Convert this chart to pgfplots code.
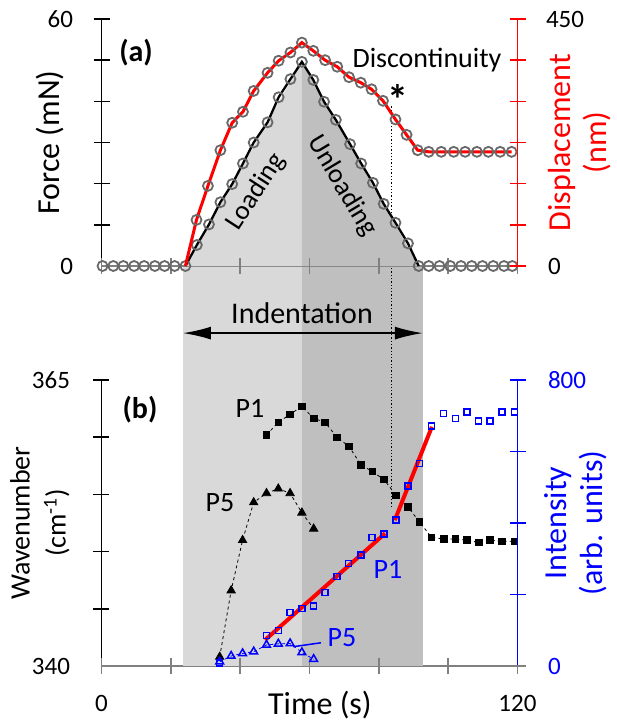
\documentclass[border=0pt]{standalone}
\usepackage{pgfplots}
\pgfplotsset{compat=1.18}
\usetikzlibrary{arrows.meta}
\usepackage{fontspec}
\setmainfont{Carlito}
\definecolor{lgray}{RGB}{217,217,217}
\definecolor{dgray}{RGB}{191,191,191}
\definecolor{agray}{RGB}{128,128,128}
\definecolor{cgray}{RGB}{105,105,105}
\definecolor{myblue}{RGB}{0,0,255}
\definecolor{myred}{RGB}{255,0,0}
\newcommand{\tfont}{\fontsize{25}{28}\selectfont}
\newcommand{\lfont}{\fontsize{32}{36}\selectfont}

\pgfplotsset{
  base/.style={scale only axis, width=416pt, xmin=0, xmax=120, anchor=south west,
    clip=false, xtick=\empty, ytick=\empty,
    axis line style={line width=1.8pt},
  },
}

\begin{document}
\begin{tikzpicture}[x=1pt,y=1pt]
\path (0,0) rectangle (617,-724);

% ---------------- bottom panel, wavenumber ----------------
\begin{axis}[base, at={(101.5pt,-666pt)}, height=286pt,
  ymin=340, ymax=365,
  axis x line*=bottom, axis y line*=left,
  x axis line style={draw=agray},
  xlabel={Time (s)}, xlabel style={font=\lfont, at={(axis description cs:0.525,-0.135)}, anchor=center},
  ylabel={Wavenumber\\(cm\textsuperscript{-1})},
  ylabel style={font=\fontsize{28}{36}\selectfont, align=center, at={(axis description cs:-0.148,0.5)}, anchor=center},
]
% shading (extends up to the top panel baseline)
\addplot[draw=none, fill=lgray] coordinates {(23.5,340) (57.8,340) (57.8,374.97) (23.5,374.97)};
\addplot[draw=none, fill=dgray] coordinates {(57.8,340) (92.7,340) (92.7,374.97) (57.8,374.97)};
% P1 wavenumber
\addplot[black, dashed, line width=0.8pt, mark=square*, mark size=3.3pt, mark options={solid}] coordinates {
(47.6,360.2) (51.0,361.3) (54.4,362.0) (57.8,362.7) (61.2,361.65) (64.5,361.3) (67.9,360.0)
(71.4,359.2) (74.8,357.6) (78.1,357.0) (81.5,356.3) (85.0,354.9) (88.4,353.9) (91.7,352.6)
(95.2,351.25) (98.7,351.1) (102.1,351.1) (105.4,351.0) (108.8,350.8) (112.1,351.0) (115.5,350.9) (119.1,350.9)};
% P5 wavenumber
\addplot[black, dashed, line width=0.8pt, mark=triangle*, mark size=4.8pt, mark options={solid}] coordinates {
(34.1,340.8) (37.4,346.6) (40.7,351.0) (43.9,354.3) (47.6,355.1) (51.0,355.5) (54.4,355.1) (57.8,353.4) (61.2,352.0)};
% discontinuity marker line
\draw[dotted, line width=1.3pt] (axis cs:83.7,353.9) -- (axis cs:83.7,389.0);
% indentation arrow
\draw[{Latex[length=28pt,width=13pt]}-{Latex[length=28pt,width=13pt]}, line width=1.8pt] (axis cs:23.5,369.1) -- (axis cs:92.7,369.1);
% ticks
\pgfplotsinvokeforeach{345,350,355,360,365}{\draw[black, line width=1.6pt] ([xshift=-8pt]axis cs:0,#1) -- ([xshift=8pt]axis cs:0,#1);}
\pgfplotsinvokeforeach{0,20,40,60,80,100,120}{\draw[agray, line width=1.6pt] ([yshift=-8pt]axis cs:#1,340) -- ([yshift=8pt]axis cs:#1,340);}
% tick labels
\node[anchor=east, font=\tfont] at ([xshift=-28pt]axis cs:0,365) {365};
\node[anchor=east, font=\tfont] at ([xshift=-28pt]axis cs:0,340) {340};
\node[font=\tfont] at ([yshift=-37pt]axis cs:0,340) {0};
\node[font=\tfont] at ([yshift=-37pt]axis cs:120,340) {120};
\end{axis}

% ---------------- bottom panel, intensity ----------------
\begin{axis}[base, at={(101.5pt,-666pt)}, height=286pt,
  ymin=0, ymax=800,
  axis x line=none, axis y line*=right,
  y axis line style={draw=myblue},
  ylabel={Intensity\\(arb. units)},
  ylabel style={font=\lfont, text=myblue, align=center, at={(axis description cs:1.14,0.5)}, anchor=center},
]
\addplot[only marks, myblue, mark=square, mark size=3pt, mark options={line width=1.5pt}] coordinates {
(34.1,9) (47.6,85) (51.0,99) (54.4,150) (57.8,161) (61.2,168) (64.5,206) (67.9,250) (71.3,287)
(74.8,310) (78.1,359) (81.5,369) (85.0,408) (88.4,503) (91.7,567) (95.2,672) (98.7,707)
(102.1,693) (105.4,711) (108.8,686) (112.1,686) (115.5,711) (119.1,710)};
\addplot[myblue, dashed, line width=0.8pt, mark=triangle, mark size=4.5pt, mark options={solid, line width=1.5pt}] coordinates {
(34.1,12) (37.4,28) (40.7,35) (43.9,40) (47.6,59) (51.0,62) (54.4,63) (57.8,38) (61.2,19)};
\addplot[myred, line width=4pt] coordinates {(47.2,73) (81.8,371)};
\addplot[myred, line width=4pt] coordinates {(84.6,408) (95.3,669)};
\addplot[myblue, line width=1.5pt] coordinates {(55.3,54) (63.3,65)};
\pgfplotsinvokeforeach{200,400,600,800}{\draw[myblue, line width=1.6pt] ([xshift=-8pt]axis cs:120,#1) -- ([xshift=8pt]axis cs:120,#1);}
\draw[agray, line width=1.6pt] ([xshift=-8pt]axis cs:120,0) -- ([xshift=8pt]axis cs:120,0);
\node[anchor=west, font=\tfont, text=myblue] at ([xshift=27pt]axis cs:120,800) {800};
\node[anchor=west, font=\tfont, text=myblue] at ([xshift=27pt]axis cs:120,0) {0};
\end{axis}

% ---------------- top panel, force ----------------
\begin{axis}[base, at={(101.5pt,-266pt)}, height=247pt,
  ymin=0, ymax=60,
  axis x line*=bottom, axis y line*=left,
  x axis line style={draw=agray},
  ylabel={Force (mN)},
  ylabel style={font=\lfont, at={(axis description cs:-0.124,0.5)}, anchor=center},
]
\addplot[draw=none, fill=lgray] coordinates {(24.2,0) (57.8,49.6) (57.8,0)};
\addplot[draw=none, fill=dgray] coordinates {(57.8,0) (57.8,49.6) (91.5,0)};
\pgfplotsinvokeforeach{10,20,30,40,50,60}{\draw[black, line width=1.6pt] ([xshift=-8pt]axis cs:0,#1) -- ([xshift=8pt]axis cs:0,#1);}
\pgfplotsinvokeforeach{0,20,40,60,80,100,120}{\draw[agray, line width=1.6pt] ([yshift=-8pt]axis cs:#1,0) -- ([yshift=8pt]axis cs:#1,0);}
\addplot[black, line width=2.3pt] coordinates {
(24.2,0) (27.5,5.1) (31.0,10.1) (34.3,15.5) (37.7,19.9) (40.8,24.9) (43.9,30.0) (47.9,34.9)
(51.1,41.0) (54.5,45.4) (57.8,49.6) (61.1,45.2) (64.2,39.9) (67.6,35.5) (71.7,29.6) (74.9,24.9)
(78.3,20.2) (81.4,15.1) (84.8,10.5) (88.4,5.5) (91.5,0)};
\addplot[only marks, cgray, mark=o, mark size=5pt, mark options={line width=1.8pt}] coordinates {
(0.3,0) (3.4,0) (6.3,0) (9.4,0) (12.3,0) (15.4,0) (18.2,0) (21.1,0)
(24.2,0) (27.5,5.1) (31.0,10.1) (34.3,15.5) (37.7,19.9) (40.8,24.9) (43.9,30.0) (47.9,34.9)
(51.1,41.0) (54.5,45.4) (57.8,49.6) (61.1,45.2) (64.2,39.9) (67.6,35.5) (71.7,29.6) (74.9,24.9)
(78.3,20.2) (81.4,15.1) (84.8,10.5) (88.4,5.5) (91.5,0)
(94.4,0) (97.5,0) (100.6,0) (103.7,0) (106.8,0) (109.9,0) (113.0,0) (116.1,0) (118.5,0)};
\node[anchor=east, font=\tfont] at ([xshift=-25pt]axis cs:0,60) {60};
\node[anchor=east, font=\tfont] at ([xshift=-25pt]axis cs:0,0) {0};
\end{axis}

% ---------------- top panel, displacement ----------------
\begin{axis}[base, at={(101.5pt,-266pt)}, height=247pt,
  ymin=0, ymax=450,
  axis x line=none, axis y line*=right,
  y axis line style={draw=myred},
  ylabel={Displacement\\(nm)},
  ylabel style={font=\lfont, text=myred, align=center, at={(axis description cs:1.150,0.5)}, anchor=center},
]
\pgfplotsinvokeforeach{0,75,150,225,300,375,450}{\draw[myred, line width=1.6pt] ([xshift=-8pt]axis cs:120,#1) -- ([xshift=8pt]axis cs:120,#1);}
\addplot[myred, line width=3pt] coordinates {
(24.2,0) (27.4,84) (30.7,146) (34.3,211) (37.7,261) (40.8,281) (43.9,319) (47.9,352) (51.1,374)
(54.5,389) (57.8,407) (61.1,392) (64.5,375) (68.0,363) (71.4,344) (74.8,334) (77.9,322) (81.2,301)
(84.8,267) (88.0,239) (91.2,211) (94.4,208) (98.0,208) (101.6,208) (104.9,208) (108.3,208)
(111.6,208) (115.0,208) (118.3,208)};
\addplot[only marks, cgray, mark=o, mark size=5pt, mark options={line width=1.8pt}] coordinates {
(27.4,84) (30.7,146) (34.3,211) (37.7,261) (40.8,281) (43.9,319) (47.9,352) (51.1,374)
(54.5,389) (57.8,407) (61.1,392) (64.5,375) (68.0,363) (71.4,344) (74.8,334) (77.9,322) (81.2,301)
(84.8,267) (88.0,239) (91.2,211) (94.4,208) (98.0,208) (101.6,208) (104.9,208) (108.3,208)
(111.6,208) (115.0,208) (118.3,208)};
\node[anchor=west, font=\tfont] at ([xshift=25pt]axis cs:120,450) {450};
\node[anchor=west, font=\tfont] at ([xshift=27pt]axis cs:120,0) {0};
\end{axis}

% ---------------- annotations ----------------
\node[font=\fontsize{30}{34}\selectfont\bfseries] at (136,-53) {(a)};
\node[font=\fontsize{30}{34}\selectfont\bfseries] at (140,-410) {(b)};
\node[font=\fontsize{28}{32}\selectfont] at (427,-60) {Discontinuity};
\node[font=\fontsize{42}{46}\selectfont\bfseries] at (398,-99) {*};
\node[font=\fontsize{27}{30}\selectfont, rotate=57] at (256,-192) {Loading};
\node[font=\fontsize{27}{30}\selectfont, rotate=-59] at (342,-186) {Unloading};
\node[font=\fontsize{30}{34}\selectfont] at (302,-313) {Indentation};
\node[font=\fontsize{28}{32}\selectfont] at (250,-408) {P1};
\node[font=\fontsize{28}{32}\selectfont] at (220,-503) {P5};
\node[font=\fontsize{28}{32}\selectfont, text=myblue] at (388,-569) {P1};
\node[font=\fontsize{28}{32}\selectfont, text=myblue] at (342,-638) {P5};
\end{tikzpicture}
\end{document}
